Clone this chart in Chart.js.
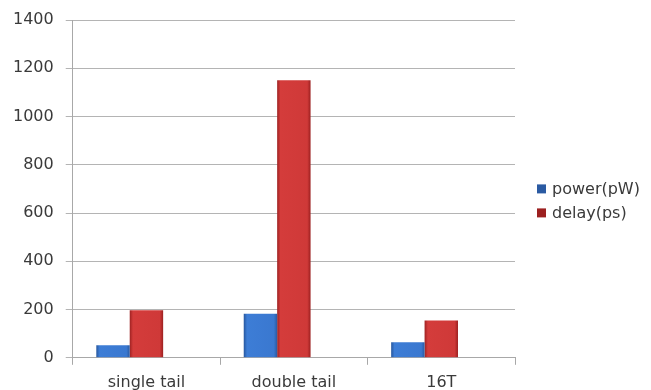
<!DOCTYPE html>
<html>
<head>
<meta charset="utf-8">
<script src="https://cdn.jsdelivr.net/npm/chart.js@4.4.1/dist/chart.umd.min.js"></script>
<style>
  html, body { margin: 0; padding: 0; background: #ffffff; }
  #wrap { width: 651px; height: 390px; }
</style>
</head>
<body>
<div id="wrap"><canvas id="chart" width="651" height="390"></canvas></div>
<script>
// Comparator designs and their measured figures
const categories = ['single tail', 'double tail', '16T'];
const powerPW = [52, 183, 64];
const delayPS = [197, 1150, 155];
const seriesNames = ['power(pW)', 'delay(ps)'];
const yTicks = [0, 200, 400, 600, 800, 1000, 1200, 1400];

const FONT = 'DejaVu Sans';
const TEXT = '#3a3a3a';
const CAT_PCT = 0.68;
const SLOTS = 3; // two visible series plus one empty slot per group

// Flat fill with darkened side edges for a slightly bevelled bar
const palettes = {
  blue: { solid: '#3372c6', stops: ['#27579e', '#3d7dd6', '#3a78d0', '#2a5aa2'] },
  red:  { solid: '#c83432', stops: ['#9e2222', '#d43c3b', '#cf3938', '#9c2020'] }
};

function shaded(pal, slot) {
  return (ctx) => {
    if (ctx.type !== 'data') return pal.solid;
    const chart = ctx.chart;
    const xs = chart.scales.x;
    if (!xs || !chart.chartArea) return pal.solid;
    const catW = xs.width / categories.length;
    const barW = catW * CAT_PCT / SLOTS;
    const center = xs.getPixelForValue(ctx.dataIndex);
    const left = center - catW * CAT_PCT / 2 + slot * barW;
    const g = chart.ctx.createLinearGradient(left, 0, left + barW, 0);
    g.addColorStop(0, pal.stops[0]);
    g.addColorStop(0.1, pal.stops[1]);
    g.addColorStop(0.9, pal.stops[2]);
    g.addColorStop(1, pal.stops[3]);
    return g;
  };
}

// Key at the right of the plot: one small swatch and name per named series
const sideKey = {
  id: 'sideKey',
  afterDraw(chart, args, opts) {
    const { ctx, chartArea } = chart;
    const mid = (chartArea.top + chartArea.bottom) / 2;
    const x = chartArea.right + opts.gap;
    ctx.save();
    ctx.font = `${opts.size}px ${FONT}`;
    ctx.textBaseline = 'middle';
    let row = 0;
    chart.data.datasets.forEach((ds, i) => {
      if (!ds.label) return;
      const y = mid + row * opts.rowStep;
      const meta = chart.getDatasetMeta(i);
      ctx.fillStyle = meta.controller.getStyle(undefined).backgroundColor;
      ctx.fillRect(x, y - opts.box / 2, opts.box, opts.box);
      ctx.fillStyle = TEXT;
      ctx.fillText(ds.label, x + opts.box + 6, y + 1);
      row++;
    });
    ctx.restore();
  }
};

new Chart(document.getElementById('chart'), {
  type: 'bar',
  data: {
    labels: categories,
    datasets: [
      {
        label: seriesNames[0],
        data: powerPW,
        backgroundColor: shaded(palettes.blue, 0),
        borderWidth: 0
      },
      {
        label: seriesNames[1],
        data: delayPS,
        backgroundColor: shaded(palettes.red, 1),
        borderWidth: 0
      },
      {
        label: '',
        data: [null, null, null],
        backgroundColor: 'rgba(0,0,0,0)',
        borderWidth: 0
      }
    ]
  },
  plugins: [sideKey],
  options: {
    responsive: false,
    animation: false,
    devicePixelRatio: 1,
    datasets: {
      bar: { categoryPercentage: CAT_PCT, barPercentage: 1 }
    },
    layout: { padding: { top: 2, left: 1, right: 136, bottom: -10 } },
    plugins: {
      title: { display: false },
      tooltip: { enabled: false },
      legend: { display: false },
      sideKey: { gap: 22, box: 9, size: 16, rowStep: 24 }
    },
    scales: {
      x: {
        offset: true,
        grid: {
          offset: true,
          drawOnChartArea: false,
          drawTicks: true,
          tickLength: 7,
          color: '#a8a8a8'
        },
        border: { display: true, color: '#a8a8a8' },
        ticks: {
          color: TEXT,
          padding: 8,
          font: { family: FONT, size: 16 }
        }
      },
      y: {
        min: 0,
        max: 1400,
        afterBuildTicks: (scale) => { scale.ticks = yTicks.map(v => ({ value: v })); },
        grid: {
          color: '#b4b4b4',
          drawTicks: true,
          tickLength: 7
        },
        border: { display: true, color: '#a8a8a8' },
        ticks: {
          color: TEXT,
          padding: 12,
          font: { family: FONT, size: 16, lineHeight: 1 },
          callback: (v) => String(v)
        }
      }
    }
  }
});
</script>
</body>
</html>
